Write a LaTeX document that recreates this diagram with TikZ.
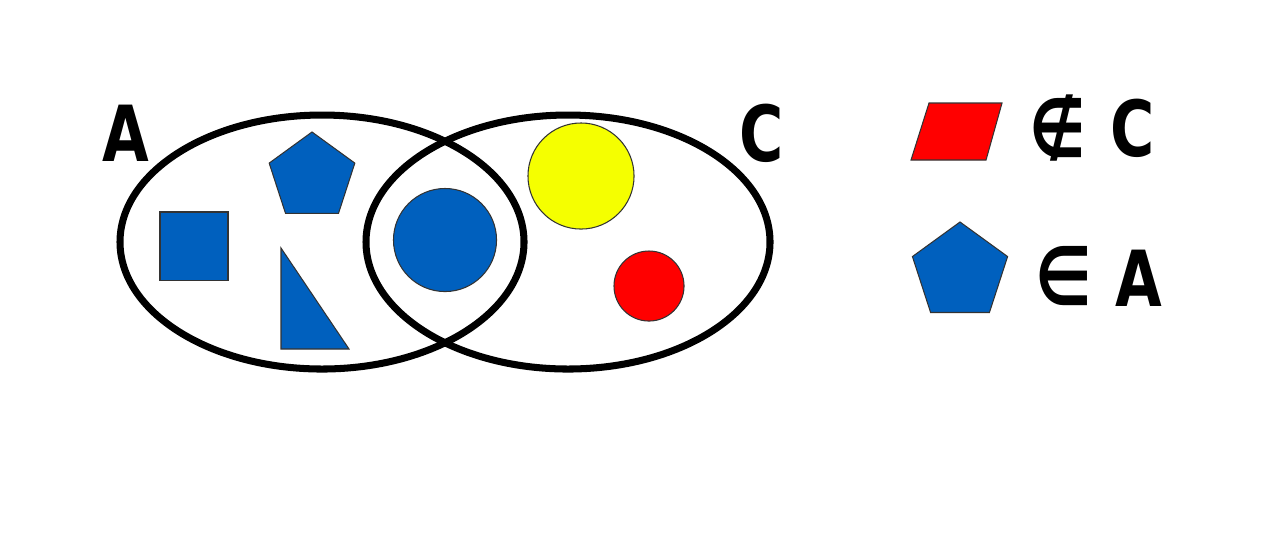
\documentclass[tikz,border=0pt]{standalone}
\usepackage{fontspec}
\setmainfont{DejaVu Sans}
\newfontfamily\narrowfont[FakeStretch=0.78]{DejaVu Sans}
\usepackage{xcolor}
\usetikzlibrary{shapes.geometric,positioning}

\definecolor{shapeblue}{RGB}{0,96,190}
\definecolor{shapeyellow}{RGB}{245,255,0}
\definecolor{shapered}{RGB}{255,0,0}

\begin{document}
\begin{tikzpicture}[
    x=0.01cm, y=-0.01cm,
    setline/.style={line width=2pt, black},
    piece/.style={draw=black!80, line width=0.3pt, inner sep=0pt},
    blob/.style={piece, circle},
    penta/.style={piece, regular polygon, regular polygon sides=5, fill=shapeblue},
    setname/.style={font=\fontsize{22}{26}\narrowfont\bfseries, inner sep=0pt},
    relsym/.style={font=\fontsize{23}{28}\narrowfont\bfseries, inner sep=0pt}
]
\useasboundingbox (0,0) rectangle (1280,547);

% Sets A and C
\draw[setline] (322,242) ellipse [x radius=202, y radius=127];
\draw[setline] (568,242) ellipse [x radius=202, y radius=127];
\node[setname] (nameA) at (126,133) {A};
\node[setname] (nameC) at (762,133) {C};

% Elements of A
\node[piece, fill=shapeblue, minimum size=0.68cm] (square) at (194,246) {};
\node[penta, minimum size=0.9cm] (pentagon) at (312,177) {};
\draw[piece, fill=shapeblue] (281,248) -- (281,349) -- (349,349) -- cycle;

% Common element
\node[blob, fill=shapeblue, minimum size=1.03cm] (bluedot) at (445,240) {};

% Elements of C
\node[blob, fill=shapeyellow, minimum size=1.06cm] (yellowdot) at (581,176) {};
\node[blob, fill=shapered, minimum size=0.7cm] (reddot) at (649,286) {};

% Legend
\draw[piece, fill=shapered] (911,160) -- (986,160) -- (1002,103) -- (929,103) -- cycle;
\node[relsym] (notin) at (1058,128) {∉};
\node[setname] (legC) at (1133,128) {C};
\node[penta, minimum size=1.0cm] (legpenta) at (960,272) {};
\node[relsym] (isin) at (1064,276) {∈};
\node[setname] (legA) at (1139,278) {A};

\end{tikzpicture}
\end{document}
